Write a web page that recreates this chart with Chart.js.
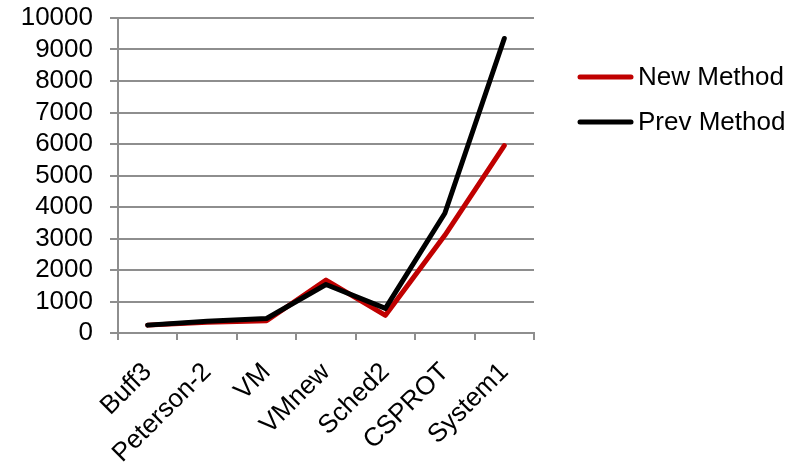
<!DOCTYPE html>
<html>
<head>
<meta charset="utf-8">
<script src="https://cdn.jsdelivr.net/npm/chart.js@4/dist/chart.umd.min.js"></script>
<style>
    body { margin: 0; background: #fff; }
</style>
</head>
<body>
<canvas id="chart" width="801" height="466"></canvas>
<script>
const categories = ['Buff3', 'Peterson-2', 'VM', 'VMnew', 'Sched2', 'CSPROT', 'System1'];
const newMethod = [250, 340, 390, 1680, 560, 3100, 5950];
const prevMethod = [250, 370, 460, 1540, 780, 3800, 9350];
const yTicks = [0, 1000, 2000, 3000, 4000, 5000, 6000, 7000, 8000, 9000, 10000];

const FONT = "'Liberation Sans', Arial, sans-serif";
const FONT_SIZE = 26;
const gridColor = '#8e8e8e';

// legend drawn by hand so the line samples sit where the original has them
const sideLegend = {
    id: 'sideLegend',
    afterDraw(chart) {
        const ctx = chart.ctx;
        const rows = [77, 122];
        chart.data.datasets.forEach((ds, i) => {
            const y = rows[i];
            ctx.save();
            ctx.strokeStyle = ds.borderColor;
            ctx.lineWidth = 5;
            ctx.lineCap = 'round';
            ctx.beginPath();
            ctx.moveTo(580, y);
            ctx.lineTo(631, y);
            ctx.stroke();
            ctx.fillStyle = '#000';
            ctx.font = FONT_SIZE + 'px ' + FONT;
            ctx.textBaseline = 'middle';
            ctx.fillText(ds.label, 638, y + 1);
            ctx.restore();
        });
    }
};

new Chart(document.getElementById('chart'), {
    type: 'line',
    data: {
        labels: categories,
        datasets: [
            {
                label: 'New Method',
                data: newMethod,
                borderColor: '#c00000',
                borderWidth: 5,
                pointRadius: 0,
                tension: 0,
                borderCapStyle: 'round',
                borderJoinStyle: 'round',
                order: 1
            },
            {
                label: 'Prev Method',
                data: prevMethod,
                borderColor: '#000000',
                borderWidth: 5,
                pointRadius: 0,
                tension: 0,
                borderCapStyle: 'round',
                borderJoinStyle: 'round',
                order: 0
            }
        ]
    },
    options: {
        responsive: false,
        animation: false,
        layout: {
            padding: { left: 0, top: 18, right: 267, bottom: 0 }
        },
        plugins: {
            legend: { display: false },
            tooltip: { enabled: false }
        },
        scales: {
            x: {
                offset: true,
                grid: {
                    offset: true,
                    drawOnChartArea: false,
                    color: gridColor,
                    lineWidth: 2,
                    tickLength: 7
                },
                border: { color: gridColor, width: 2 },
                ticks: {
                    color: '#000',
                    font: { family: FONT, size: FONT_SIZE },
                    minRotation: 45,
                    maxRotation: 45,
                    padding: 17,
                    autoSkip: false
                },
                afterFit(scale) { scale.height = 133; }
            },
            y: {
                min: 0,
                max: 10000,
                afterBuildTicks(scale) {
                    scale.ticks = yTicks.map(v => ({ value: v }));
                },
                grid: {
                    color: gridColor,
                    lineWidth: 2,
                    tickLength: 8
                },
                border: { color: gridColor, width: 2 },
                ticks: {
                    color: '#000',
                    font: { family: FONT, size: FONT_SIZE },
                    padding: 17,
                    autoSkip: false,
                    callback: v => String(v)
                },
                afterFit(scale) {
                    scale.width = 118;
                    scale.paddingTop = 0;
                    scale.paddingBottom = 0;
                }
            }
        }
    },
    plugins: [sideLegend]
});
</script>
</body>
</html>
